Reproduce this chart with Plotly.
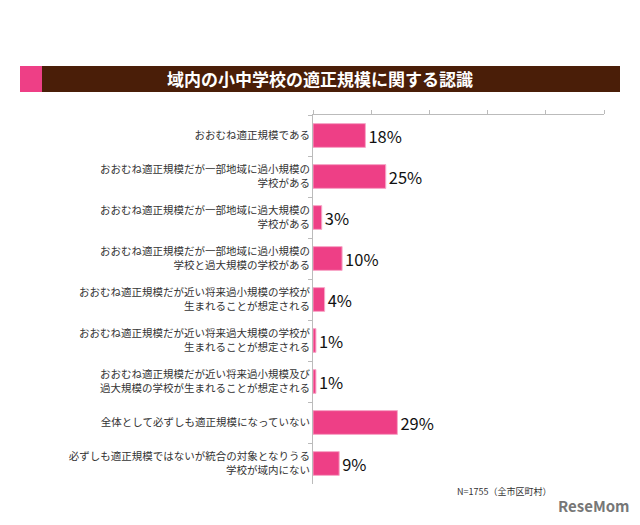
import plotly.graph_objects as go

categories = [
    "おおむね適正規模である",
    "おおむね適正規模だが一部地域に過小規模の<br>学校がある",
    "おおむね適正規模だが一部地域に過大規模の<br>学校がある",
    "おおむね適正規模だが一部地域に過小規模の<br>学校と過大規模の学校がある",
    "おおむね適正規模だが近い将来過小規模の学校が<br>生まれることが想定される",
    "おおむね適正規模だが近い将来過大規模の学校が<br>生まれることが想定される",
    "おおむね適正規模だが近い将来過小規模及び<br>過大規模の学校が生まれることが想定される",
    "全体として必ずしも適正規模になっていない",
    "必ずしも適正規模ではないが統合の対象となりうる<br>学校が域内にない",
]
values = [18, 25, 3, 10, 4, 1, 1, 29, 9]
labels = [f"{v}%" for v in values]

W, H = 640, 525
L, R, T, B = 313, 36, 115, 41
PW, PH = W - L - R, H - T - B
def px(x): return (x - L) / PW
def py(y): return (H - B - y) / PH

FONT = "Noto Sans CJK JP"
fig = go.Figure(go.Bar(
    y=categories, x=values, orientation="h",
    marker=dict(color="#ee3f86", line=dict(color="#f7a8c8", width=1)),
    width=0.58, text=labels, textposition="outside", cliponaxis=False,
    textfont=dict(family=FONT, size=18, color="#111"),
))
fig.update_layout(
    width=W, height=H, paper_bgcolor="white", plot_bgcolor="white",
    margin=dict(l=L, r=R, t=T, b=B, autoexpand=False), showlegend=False,
    font=dict(family=FONT, size=11, color="#333"),
    xaxis=dict(range=[0, 100], side="top", showline=True, linecolor="#bbb",
               ticks="outside", ticklen=4, tickcolor="#bbb", dtick=20, automargin=False,
               showticklabels=False, showgrid=False, zeroline=False),
    yaxis=dict(autorange="reversed", showline=True, linecolor="#bbb", automargin=False,
               ticks="outside", ticklen=4, tickcolor="#bbb", tickson="boundaries",
               showgrid=False, tickfont=dict(size=10.5, color="#333")),
    shapes=[
        dict(type="rect", xref="paper", yref="paper", x0=px(20), x1=px(620),
             y0=py(92), y1=py(66), fillcolor="#4a1e08", line_width=0, layer="below"),
        dict(type="rect", xref="paper", yref="paper", x0=px(20), x1=px(42),
             y0=py(92), y1=py(66), fillcolor="#ee3f86", line_width=0),
    ],
    annotations=[
        dict(text="<b>域内の小中学校の適正規模に関する認識</b>", xref="paper", yref="paper",
             x=px(320), y=py(79), xanchor="center", yanchor="middle", showarrow=False,
             font=dict(family=FONT, size=17, color="white")),
        dict(text="N=1755（全市区町村）", xref="paper", yref="paper",
             x=px(455), y=py(492), xanchor="left", yanchor="middle", showarrow=False,
             font=dict(family=FONT, size=9, color="#333")),
        dict(text="<b>ReseMom</b>", xref="paper", yref="paper",
             x=px(632), y=py(505), xanchor="right", yanchor="middle", showarrow=False,
             font=dict(family=FONT, size=15, color="#777")),
    ],
)
fig.write_html("out.html", config={"displayModeBar": False},
               post_script="document.body.style.margin='0';")
